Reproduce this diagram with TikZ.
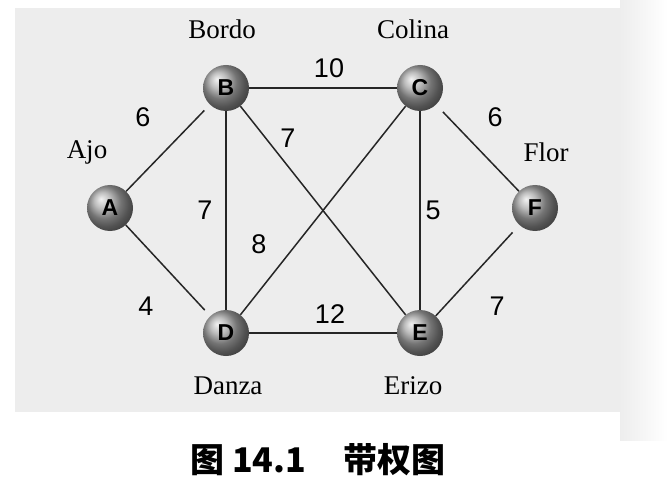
\documentclass[tikz,border=0pt]{standalone}
\usepackage{fontspec}
\setmainfont{Liberation Serif}
\setsansfont{Liberation Sans}
\newfontfamily\cjk{Noto Sans CJK SC}
\begin{document}
\begin{tikzpicture}[x=1pt,y=-1pt,
  vert/.style={circle,minimum size=46pt,inner sep=0pt,shading=ball,ball color=gray!70,font=\sffamily\bfseries\fontsize{23}{23}\selectfont,text=black},
  vlabel/.style={font=\fontsize{27}{27}\selectfont},
  wt/.style={font=\sffamily\fontsize{27}{27}\selectfont},
  link/.style={line width=1.5pt,draw=black!85}]
\useasboundingbox (0,0) rectangle (668,494);
\fill[white] (0,0) rectangle (668,494);
\fill[black!7] (15,8) rectangle (620,412);
\shade[left color=black!7,right color=white] (620,0) rectangle (668,440);
% vertices
\node[vert] (A) at (110,208) {A};
\node[vert] (B) at (226,88) {B};
\node[vert] (C) at (420,88) {C};
\node[vert] (D) at (226,333) {D};
\node[vert] (E) at (420,333) {E};
\node[vert] (F) at (535,208) {F};
% names
\node[vlabel] (nA) at (87,152) {Ajo};
\node[vlabel] (nB) at (222,29) {Bordo};
\node[vlabel] (nC) at (413,29) {Colina};
\node[vlabel] (nF) at (546,152) {Flor};
\node[vlabel] (nD) at (228,386) {Danza};
\node[vlabel] (nE) at (413,386) {Erizo};
% edges
\draw[link,shorten >=8pt] (A) -- (B);
\draw[link] (B) -- (C);
\draw[link] (B) -- (D);
\draw[link] (B) -- (E);
\draw[link] (C) -- (D);
\draw[link] (C) -- (E);
\draw[link,shorten <=10pt] (C) -- (F);
\draw[link,shorten >=8pt] (A) -- (D);
\draw[link] (D) -- (E);
\draw[link,shorten <=10pt] (F) -- (E);
% weights
\node[wt] (wAB) at (143,117) {6};
\node[wt] (wBC) at (329,68) {10};
\node[wt] (wBE) at (288,138) {7};
\node[wt] (wBD) at (205,210) {7};
\node[wt] (wCD) at (259,244) {8};
\node[wt] (wCE) at (433,210) {5};
\node[wt] (wCF) at (495,117) {6};
\node[wt] (wAD) at (146,306) {4};
\node[wt] (wDE) at (330,314) {12};
\node[wt] (wEF) at (497,306) {7};
% caption
\node[font=\cjk\bfseries\fontsize{34}{34}\selectfont] (cap) at (318,460) {图 14.1\hspace{1.1em}带权图};
\end{tikzpicture}
\end{document}
